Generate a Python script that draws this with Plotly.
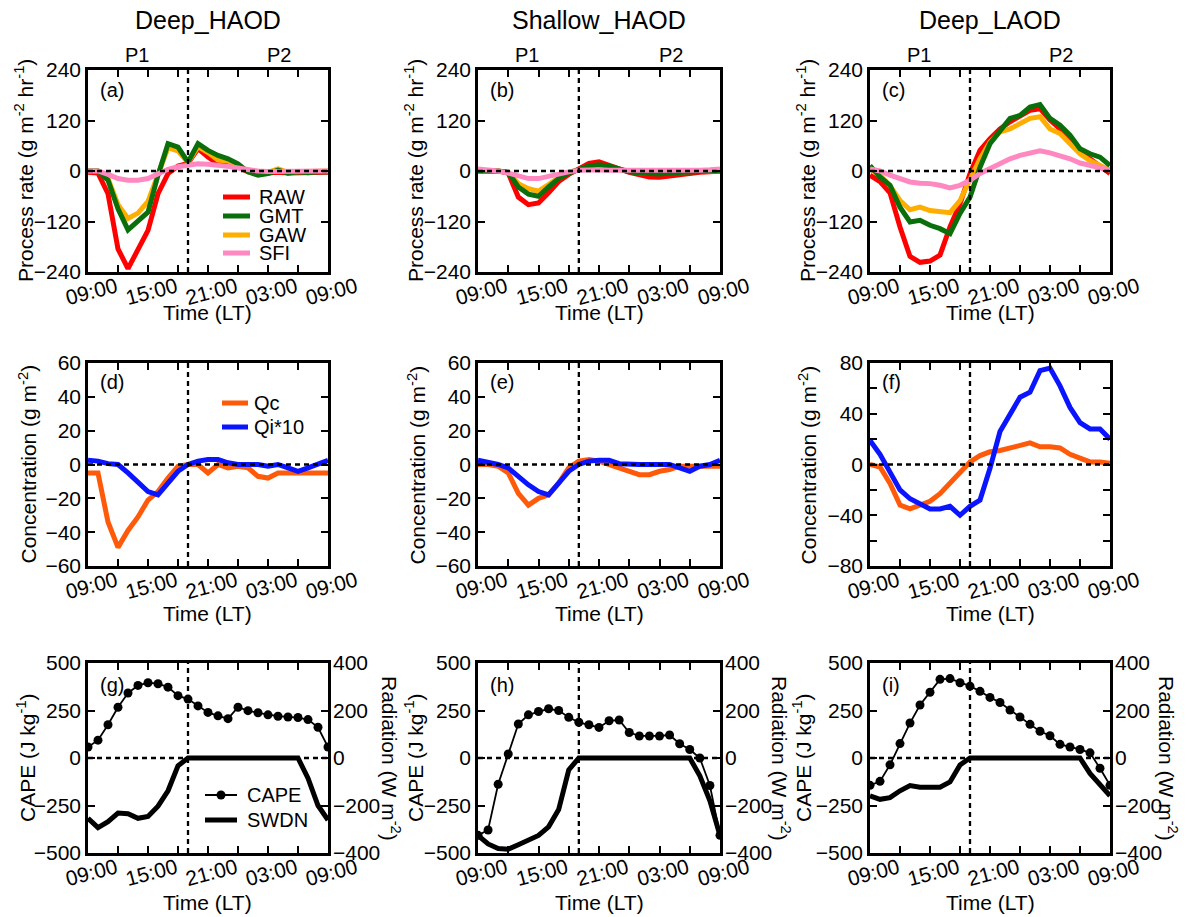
import plotly.graph_objects as go

# ---------------- data ----------------
HOURS = list(range(25))  # hours after 09:00 LT
LABEL_HOURS = [0, 6, 12, 18, 24]
LABEL_TEXT = ["09:00", "15:00", "21:00", "03:00", "09:00"]
MINOR_HOURS = [3, 9, 15, 21]
COL_TITLES = ["Deep_HAOD", "Shallow_HAOD", "Deep_LAOD"]
PANEL_LABELS = ["(a)", "(b)", "(c)", "(d)", "(e)", "(f)", "(g)", "(h)", "(i)"]

# process rates (g m-2 hr-1)
RAW_a = [-3, -5, -54, -185, -232, -189, -141, -54, -6, 12, 18, 53, 33, 17, 13, 10, -2, -5, -5, -3, -5, -5, -4, -3, -3]
GMT_a = [0, 0, -22, -90, -140, -118, -98, -10, 65, 57, 21, 65, 49, 37, 29, 17, -2, -10, -6, 2, -5, -2, -4, -2, -2]
GAW_a = [0, 0, -18, -80, -113, -100, -72, -5, 55, 48, 20, 58, 44, 26, 24, 14, -1, -6, -3, 5, -3, -2, -2, -1, 0]
SFI_a = [0, 0, -8, -18, -22, -22, -18, -8, 4, 10, 13, 17, 16, 14, 11, 7, 3, 0, -1, -1, 0, 0, 0, 0, 0]

RAW_b = [0, 0, 0, -5, -62, -80, -76, -52, -25, -8, 5, 18, 22, 15, 5, -3, -10, -14, -15, -12, -10, -5, -3, -2, 0]
GMT_b = [0, 0, 0, -3, -38, -55, -60, -38, -18, -5, 5, 12, 15, 12, 5, -2, -5, -7, -7, -5, -3, -2, -1, 0, 0]
GAW_b = [0, 0, 0, -3, -30, -42, -48, -32, -15, -3, 5, 10, 12, 8, 3, -2, -4, -5, -5, -4, -3, -1, 0, 0, 0]
SFI_b = [5, 3, 0, -5, -12, -18, -18, -12, -6, -2, 2, 3, 3, 2, 2, 1, 1, 0, 0, 0, 1, 1, 2, 3, 5]

RAW_c = [-10, -25, -52, -133, -203, -217, -214, -200, -133, -78, -6, 49, 77, 100, 117, 132, 144, 148, 121, 100, 73, 45, 29, 13, -6]
GMT_c = [13, -14, -34, -86, -121, -117, -129, -137, -149, -101, -62, 9, 65, 97, 125, 132, 152, 158, 125, 109, 85, 53, 41, 33, 13]
GAW_c = [5, -10, -35, -70, -92, -86, -94, -98, -99, -70, -22, 29, 69, 93, 100, 113, 125, 129, 100, 89, 65, 41, 25, 13, 2]
SFI_c = [5, 0, -10, -18, -26, -29, -30, -34, -40, -34, -22, -6, 6, 19, 29, 37, 43, 48, 43, 37, 29, 19, 13, 10, 2]

# concentrations (g m-2)
Qc_d = [-5, -5, -34, -49, -39, -31, -21, -16, -8, -1, 0, 0, -5, 0, -2, -1, -2, -7, -8, -5, -5, -5, -5, -5, -5]
Qi_d = [2.5, 2, 0.5, 0, -5, -11, -16, -18, -11, -4, 0, 2, 3, 3, 1, 0, 0, 0, -1, 0, -2, -4, -2, 0, 2.5]
Qc_e = [0, 0, -1, -5, -17, -24, -20, -18, -11, -2, 2, 3, 2, 0, -2, -4, -6, -6, -4, -3, -1, -1, -1, -1, -1]
Qi_e = [2.5, 1.5, 0, -2, -7, -12, -16, -18, -11, -4, 0, 2, 2.5, 2.5, 0.5, 0, 0, 0, 0, 0, -2, -4, -1, 0, 2.5]
Qc_f = [0, -2, -15, -32, -35, -32, -29, -23, -15, -6, 2, 7, 10, 11, 13, 16, 17, 14, 14, 13, 8, 5, 2, 2, 1]
Qi_f = [19, 8, -6, -20, -27, -31, -35, -35, -33, -40, -33, -28, -3, 26, 40, 53, 57, 74, 76, 62, 45, 33, 28, 28, 20]

# CAPE (J kg-1) and SWDN (W m-2)
CAPE_g = [58, 94, 175, 267, 342, 382, 396, 391, 373, 328, 310, 274, 240, 222, 207, 267, 249, 238, 227, 220, 216, 213, 202, 162, 58]
SWDN_g = [-254, -293, -268, -232, -235, -254, -246, -203, -138, -33, 0, 0, 0, 0, 0, 0, 0, 0, 0, 0, 0, 0, -85, -200, -261]
CAPE_h = [-407, -379, -138, 21, 179, 227, 245, 259, 250, 214, 188, 175, 161, 196, 200, 134, 116, 116, 116, 121, 75, 45, 0, -145, -407]
SWDN_h = [-326, -362, -381, -384, -365, -348, -326, -290, -217, -50, 0, 0, 0, 0, 0, 0, 0, 0, 0, 0, 0, 0, -75, -180, -326]
CAPE_i = [-144, -123, -36, 76, 184, 279, 346, 414, 418, 396, 378, 351, 319, 292, 252, 216, 177, 141, 117, 72, 58, 45, 27, -54, -144]
SWDN_i = [-159, -174, -167, -138, -116, -123, -123, -123, -101, -29, 0, 0, 0, 0, 0, 0, 0, 0, 0, 0, 0, 0, -65, -116, -159]

PROC_SERIES = [("RAW", [RAW_a, RAW_b, RAW_c]), ("GAW", [GAW_a, GAW_b, GAW_c]),
               ("GMT", [GMT_a, GMT_b, GMT_c]), ("SFI", [SFI_a, SFI_b, SFI_c])]
CONC_SERIES = [("Qc", [Qc_d, Qc_e, Qc_f]), ("Qi*10", [Qi_d, Qi_e, Qi_f])]
CAPE_SERIES = [CAPE_g, CAPE_h, CAPE_i]
SWDN_SERIES = [SWDN_g, SWDN_h, SWDN_i]

COLORS = {"RAW": "#ff0000", "GMT": "#0a6e0a", "GAW": "#ffae00", "SFI": "#ff88c0",
          "Qc": "#ff5a0a", "Qi*10": "#0a14ff"}

# ---------------- layout geometry ----------------
W, H = 1195, 917
FONT = "Arial, 'Liberation Sans', sans-serif"
FS = 21
COL_X = [(88, 328), (478, 720), (870, 1110)]
ROW_Y = [(70, 272), (363, 566), (663, 853)]


def px(x):
    return x / W


def py(y):
    return 1 - y / H


def ax_name(letter, k):
    return f"{letter}axis" if k == 1 else f"{letter}axis{k}"


def ref(letter, k):
    return letter if k == 1 else f"{letter}{k}"


fig = go.Figure()
layout = dict(width=W, height=H, margin=dict(l=0, r=0, t=0, b=0, autoexpand=False),
              paper_bgcolor="white", plot_bgcolor="white", showlegend=False,
              font=dict(family=FONT, size=FS, color="black"))
shapes, annotations = [], []

tickfont = dict(family=FONT, size=FS, color="black")
common_axis = dict(ticks="inside", ticklen=7, tickwidth=2, tickcolor="black",
                   showline=True, linewidth=2.6, linecolor="black", automargin=False,
                   showgrid=False, zeroline=False, tickfont=tickfont)


def minor(vals):
    return dict(tickmode="array", tickvals=vals, ticks="inside", ticklen=7,
                tickwidth=2, tickcolor="black", showgrid=False)


# (range low, range high, labelled ticks, unlabelled ticks)
Y_RANGES = [
    [(-240, 240, [-240, -120, 0, 120, 240], None)] * 3,
    [(-60, 60, [-60, -40, -20, 0, 20, 40, 60], None),
     (-60, 60, [-60, -40, -20, 0, 20, 40, 60], None),
     (-80, 80, [-80, -40, 0, 40, 80], [-60, -20, 20, 60])],
    [(-500, 500, [-500, -250, 0, 250, 500], None)] * 3,
]
LABEL_Y = [0.90, 0.905, 0.884]
YTITLES = ["Process rate (g m<sup>-2</sup> hr<sup>-1</sup>)",
           "Concentration (g m<sup>-2</sup>)",
           "CAPE (J kg<sup>-1</sup>)"]
YTITLE_X = [[24, 414, 806], [27, 416, 807], [26, 414, 802]]
RAD_X = [391, 781, 1168]
TIME_Y = [312, 613, 902]

for r in range(3):
    y0, y1 = ROW_Y[r]
    for c in range(3):
        k = r * 3 + c + 1
        x0, x1 = COL_X[c]
        xr, yr = ref("x", k), ref("y", k)
        layout[ax_name("x", k)] = dict(
            domain=[px(x0), px(x1)], anchor=yr, range=[0, 24],
            tickmode="array", tickvals=LABEL_HOURS, ticktext=LABEL_TEXT, tickangle=-15,
            ticklabelshift=28, ticklabelstandoff=-8, minor=minor(MINOR_HOURS),
            mirror="ticks", **common_axis)
        lo, hi, tv, mv = Y_RANGES[r][c]
        yax = dict(domain=[py(y1), py(y0)], anchor=xr, range=[lo, hi],
                   tickmode="array", tickvals=tv,
                   mirror=("ticks" if r < 2 else True), **common_axis)
        if mv is not None:
            yax["minor"] = minor(mv)
        layout[ax_name("y", k)] = yax

        # data
        if r == 0:
            for name, arrs in PROC_SERIES:
                fig.add_trace(go.Scatter(x=HOURS, y=arrs[c], mode="lines", name=name,
                                         line=dict(color=COLORS[name], width=5),
                                         xaxis=xr, yaxis=yr))
        elif r == 1:
            for name, arrs in CONC_SERIES:
                fig.add_trace(go.Scatter(x=HOURS, y=arrs[c], mode="lines", name=name,
                                         line=dict(color=COLORS[name], width=5),
                                         xaxis=xr, yaxis=yr))
        else:
            k2 = 9 + c + 1
            yr2 = ref("y", k2)
            layout[ax_name("y", k2)] = dict(
                overlaying=yr, side="right", anchor=xr, range=[-400, 400],
                tickmode="array", tickvals=[-400, -200, 0, 200, 400], ticks="inside",
                ticklen=7, tickwidth=2, tickcolor="black", showline=False,
                showgrid=False, zeroline=False, tickfont=tickfont, automargin=False,
                ticklabelstandoff=4)
            fig.add_trace(go.Scatter(x=HOURS, y=SWDN_SERIES[c], mode="lines", name="SWDN",
                                     line=dict(color="black", width=5),
                                     xaxis=xr, yaxis=yr2))
            fig.add_trace(go.Scatter(x=HOURS, y=CAPE_SERIES[c], mode="lines+markers",
                                     name="CAPE", line=dict(color="black", width=1.8),
                                     marker=dict(size=9, color="black"),
                                     xaxis=xr, yaxis=yr))
            annotations.append(dict(text="Radiation (W m<sup>-2</sup>)", textangle=90,
                                    xref="paper", yref="paper", x=px(RAD_X[c]),
                                    y=py((y0 + y1) / 2), showarrow=False,
                                    xanchor="center", yanchor="middle",
                                    font=dict(size=FS)))

        # dashed reference lines
        dash = dict(color="black", width=2.3, dash="5px,4px")
        shapes.append(dict(type="line", xref=f"{xr} domain", yref=yr, x0=0, x1=1,
                           y0=0, y1=0, line=dash, layer="above"))
        shapes.append(dict(type="line", xref=xr, yref=f"{yr} domain", x0=10, x1=10,
                           y0=0, y1=1, line=dash, layer="above"))

        # panel label
        annotations.append(dict(text=PANEL_LABELS[k - 1], xref=f"{xr} domain",
                                yref=f"{yr} domain", x=0.042, y=LABEL_Y[r],
                                xanchor="left", yanchor="middle", showarrow=False,
                                font=dict(size=20)))
        # axis titles
        annotations.append(dict(text=YTITLES[r], textangle=-90, xref="paper", yref="paper",
                                x=px(YTITLE_X[r][c]), y=py((y0 + y1) / 2),
                                xanchor="center", yanchor="middle", showarrow=False,
                                font=dict(size=FS)))
        annotations.append(dict(text="Time (LT)", xref="paper", yref="paper",
                                x=px((x0 + x1) / 2), y=py(TIME_Y[r]),
                                xanchor="center", yanchor="middle", showarrow=False,
                                font=dict(size=FS)))
        if r == 0:
            annotations.append(dict(text=COL_TITLES[c], xref="paper", yref="paper",
                                    x=px((x0 + x1) / 2), y=py(20), xanchor="center",
                                    yanchor="middle", showarrow=False,
                                    font=dict(size=25)))
            for lab, hx in (("P1", 4.9), ("P2", 19.1)):
                annotations.append(dict(text=lab, xref=xr, yref="paper", x=hx,
                                        y=py(55), xanchor="center", yanchor="middle",
                                        showarrow=False, font=dict(size=20)))


# ---------------- manual legends ----------------
def legend_entry(xa, xb, y, xt, label, color, width, marker=False):
    shapes.append(dict(type="line", xref="paper", yref="paper", x0=px(xa), x1=px(xb),
                       y0=py(y), y1=py(y), line=dict(color=color, width=width)))
    if marker:
        xm = (xa + xb) / 2
        shapes.append(dict(type="circle", xref="paper", yref="paper",
                           x0=px(xm - 4.5), x1=px(xm + 4.5), y0=py(y + 4.5), y1=py(y - 4.5),
                           fillcolor="black", line=dict(color="black", width=0)))
    annotations.append(dict(text=label, xref="paper", yref="paper", x=px(xt), y=py(y),
                            xanchor="left", yanchor="middle", showarrow=False,
                            font=dict(size=20)))


for name, yy in (("RAW", 197), ("GMT", 216), ("GAW", 235), ("SFI", 253)):
    legend_entry(223, 250, yy, 257, name, COLORS[name], 5)
for name, yy in (("Qc", 403), ("Qi*10", 427)):
    legend_entry(222, 248, yy, 252, name, COLORS[name], 5)
legend_entry(205, 237, 795, 245, "CAPE", "black", 2, marker=True)
legend_entry(205, 237, 820, 245, "SWDN", "black", 5)

layout["shapes"] = shapes
layout["annotations"] = annotations
fig.update_layout(**layout)
fig.write_html("out.html")
